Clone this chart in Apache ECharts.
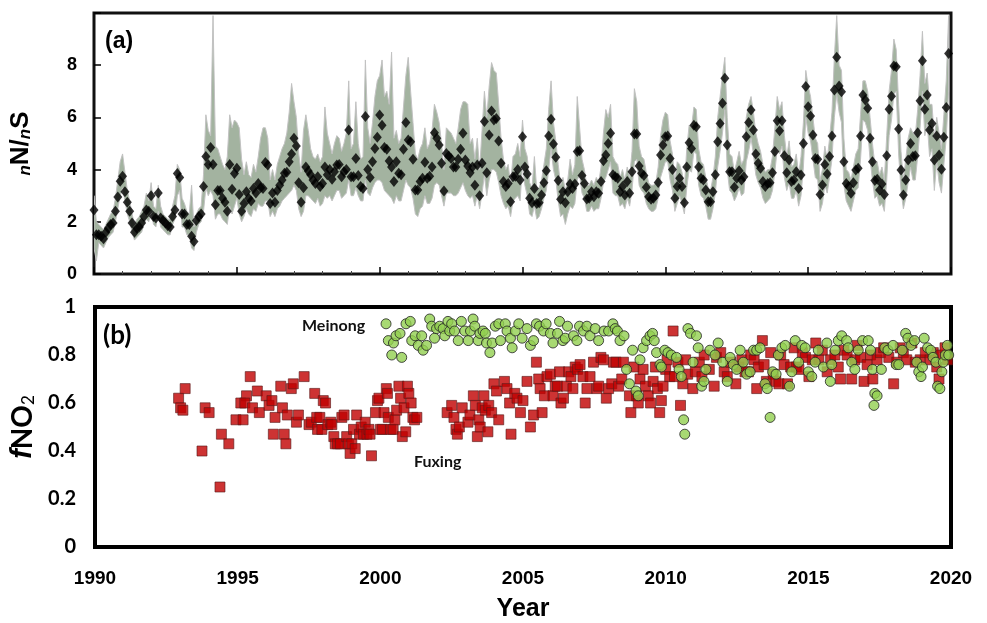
<!DOCTYPE html>
<html>
<head>
<meta charset="utf-8">
<script src="https://cdn.jsdelivr.net/npm/echarts@6/dist/echarts.min.js"></script>
<style>
  html, body { margin: 0; padding: 0; background: #fff; }
  #main { width: 987px; height: 623px; }
</style>
</head>
<body>
<div id="main"></div>
<script>
// monthly nN/nS, Jan 1990 .. Dec 2019 (one row per year)
var startYear = 1990;
var nnsMean = [
  2.45, 1.5, 1.5, 1.45, 1.35, 1.6, 1.75, 1.9, 1.95, 2.4, 2.95, 3.55,
  3.75, 3.15, 2.75, 2.4, 1.95, 1.6, 1.75, 1.8, 1.95, 2.2, 2.45, 2.4,
  3.0, 2.2, 2.15, 3.1, 2.15, 2.05, 1.95, 1.85, 1.8, 2.2, 2.45, 3.85,
  3.7, 2.3, 2.3, 1.9, 1.9, 1.45, 1.25, 2.05, 2.2, 2.3, 3.35, 4.5,
  4.2, 4.85, 4.2, 2.65, 3.2, 3.2, 2.9, 2.75, 2.4, 4.2, 3.25, 3.85,
  4.05, 3.05, 2.4, 2.7, 3.15, 2.9, 2.8, 3.28, 3.1, 3.47, 3.3, 3.28,
  4.27, 4.18, 2.7, 3.1, 2.75, 3.2, 3.4, 3.6, 3.86, 3.9, 4.3, 4.6,
  5.2, 4.9, 3.5, 2.75, 3.3, 4.1, 3.95, 3.8, 3.6, 3.47, 3.73, 3.35,
  3.47, 4.1, 3.8, 4.0, 3.63, 3.92, 4.18, 4.2, 3.73, 3.92, 4.0, 5.52,
  3.73, 3.73, 4.43, 3.77, 3.35, 3.28, 6.03, 4.0, 3.7, 4.3, 4.81, 5.24,
  6.09, 5.7, 4.85, 4.78, 4.33, 4.1, 3.54, 4.3, 3.86, 3.8, 4.78, 5.8,
  5.13, 5.07, 4.4, 3.22, 3.22, 3.54, 3.67, 4.28, 3.67, 3.75, 4.1, 5.41,
  5.2, 4.94, 4.24, 3.18, 4.62, 4.52, 4.43, 4.1, 4.1, 4.4, 4.78, 5.39,
  4.37, 4.14, 3.88, 4.1, 3.4, 4.18, 3.0, 4.24, 5.84, 3.88, 5.33, 6.25,
  5.9, 5.96, 5.1, 4.24, 3.54, 3.35, 3.47, 2.77, 3.73, 3.75, 4.0, 3.6,
  5.26, 4.1, 3.83, 2.9, 2.73, 3.28, 2.7, 2.73, 3.03, 3.5, 3.96, 5.29,
  5.93, 4.98, 4.47, 3.58, 2.86, 3.15, 2.73, 3.15, 3.45, 3.28, 3.45, 4.69,
  4.72, 3.77, 3.47, 2.87, 2.9, 3.15, 2.96, 3.15, 3.09, 3.54, 4.34, 4.56,
  5.0, 5.39, 3.8, 3.73, 3.67, 3.15, 3.35, 3.03, 3.54, 3.09, 3.92, 5.36,
  5.36, 4.14, 3.86, 3.77, 3.32, 2.96, 2.86, 2.9, 3.03, 3.51, 4.56, 4.94,
  5.26, 5.29, 4.43, 4.0, 2.9, 3.35, 3.67, 3.35, 2.73, 4.1, 5.03, 4.81,
  5.7, 5.64, 4.1, 3.67, 3.6, 3.22, 2.77, 2.77, 3.15, 3.8, 5.07, 5.77,
  6.54, 7.5, 4.94, 3.92, 3.92, 3.32, 3.67, 3.96, 3.6, 3.73, 5.26, 5.8,
  6.28, 5.52, 4.6, 4.24, 4.05, 3.54, 3.35, 3.47, 3.5, 3.88, 4.69, 5.87,
  5.49, 5.87, 4.53, 3.88, 4.37, 3.54, 3.6, 3.92, 3.28, 3.79, 5.0, 7.18,
  6.41, 6.05, 5.33, 4.43, 4.4, 3.05, 3.41, 4.2, 3.83, 4.5, 5.29, 7.05,
  8.3, 7.2, 6.98, 4.3, 3.47, 3.35, 3.09, 3.5, 3.98, 4.05, 5.29, 6.86,
  6.67, 6.35, 5.2, 4.3, 3.58, 3.63, 3.22, 3.45, 3.05, 4.53, 6.31, 6.81,
  7.97, 7.94, 5.56, 3.98, 3.03, 3.6, 4.37, 5.0, 4.5, 4.53, 5.41, 6.64,
  8.17, 6.31, 6.86, 5.52, 5.77, 4.37, 5.29, 4.56, 4.01, 5.24, 6.38, 8.45
];
var nnsHigh = [
  3.0, 2.0, 1.9, 1.8, 1.7, 1.9, 2.1, 2.3, 2.4, 2.9, 3.6, 4.3,
  4.6, 3.9, 3.2, 2.8, 2.3, 1.9, 2.1, 2.2, 2.4, 2.6, 3.1, 2.8,
  3.5, 2.6, 2.5, 3.4, 2.6, 2.3, 2.2, 2.1, 2.1, 2.6, 3.0, 4.2,
  4.0, 2.9, 2.7, 2.4, 2.3, 3.4, 1.8, 2.3, 2.5, 2.6, 3.8, 6.1,
  5.5, 5.3, 9.9, 4.9, 4.8, 4.5, 4.2, 4.0, 4.5, 6.1, 5.6, 5.9,
  5.8, 5.6, 4.4, 3.8, 4.3, 3.8, 3.7, 4.2, 3.9, 4.5, 5.2, 5.6,
  5.6, 5.2, 3.6, 4.0, 3.6, 4.2, 4.5, 4.8, 5.0, 5.4, 6.2, 7.3,
  6.6, 6.0, 4.6, 3.9, 5.5, 6.1, 5.5, 4.8, 4.5, 4.4, 4.6, 4.3,
  4.5, 6.4, 5.4, 5.0, 4.6, 5.0, 5.3, 5.2, 4.7, 5.0, 5.4, 7.4,
  4.8, 5.0, 6.6, 5.0, 4.4, 4.5, 8.2, 5.6, 5.0, 5.8, 6.8, 7.4,
  7.6, 8.2, 6.8, 7.0, 6.5, 8.5, 5.2, 5.5, 5.0, 5.2, 6.4, 7.6,
  8.3, 7.0, 5.8, 4.6, 4.4, 4.8, 5.0, 5.6, 4.8, 5.0, 5.5, 6.5,
  6.2, 5.8, 5.0, 4.0, 5.6, 5.5, 5.4, 5.2, 5.0, 5.6, 6.3, 6.6,
  6.6, 6.5, 5.0, 5.2, 4.4, 5.2, 4.0, 5.5, 7.0, 6.0, 7.2, 8.1,
  7.8, 7.7, 6.5, 5.2, 4.4, 4.0, 4.2, 3.4, 4.5, 4.6, 5.0, 4.5,
  5.9, 4.8, 4.5, 3.5, 3.3, 4.5, 3.2, 3.3, 3.6, 4.2, 4.8, 6.3,
  7.4, 5.8, 5.1, 4.2, 3.4, 3.7, 3.2, 3.6, 4.4, 3.8, 4.2, 6.8,
  5.6, 4.4, 4.0, 3.4, 3.4, 3.6, 3.4, 3.7, 3.5, 4.1, 5.4, 6.3,
  6.0, 6.5, 4.5, 4.3, 4.2, 3.7, 4.0, 3.6, 4.1, 3.7, 4.7, 7.1,
  6.6, 4.9, 4.5, 4.4, 3.9, 3.5, 3.4, 3.4, 3.5, 4.1, 5.3, 5.9,
  6.2, 6.1, 5.1, 4.6, 3.5, 4.3, 4.2, 3.9, 3.3, 4.8, 5.7, 5.6,
  6.4, 6.3, 4.8, 4.3, 4.2, 3.7, 3.3, 3.2, 3.7, 4.5, 6.0, 6.8,
  7.6, 8.3, 6.0, 4.6, 4.5, 3.9, 4.3, 4.7, 4.2, 4.4, 6.0, 6.5,
  6.8, 6.2, 5.4, 5.0, 4.7, 4.2, 3.9, 4.0, 4.0, 4.5, 5.6, 6.8,
  6.3, 6.6, 5.3, 4.5, 5.1, 4.1, 4.2, 4.6, 3.8, 4.5, 5.8, 7.8,
  7.2, 6.8, 6.0, 5.2, 5.0, 3.6, 4.0, 4.9, 4.4, 5.2, 6.2, 8.3,
  9.9, 8.0, 7.8, 5.2, 4.0, 3.9, 3.6, 4.1, 4.6, 4.8, 6.1, 7.4,
  7.4, 7.0, 6.0, 5.0, 4.2, 4.3, 3.8, 4.1, 3.6, 5.3, 7.0, 7.8,
  9.0, 8.6, 6.5, 4.7, 3.6, 4.4, 5.2, 5.6, 5.4, 5.3, 6.3, 7.6,
  9.3, 7.3, 7.7, 6.5, 6.5, 5.2, 6.0, 5.4, 4.8, 6.1, 7.4, 9.9
];
var nnsLow = [
  1.0, 0.5, 1.2, 1.1, 1.0, 1.2, 1.4, 1.5, 1.6, 2.0, 2.5, 3.0,
  3.3, 2.8, 2.3, 2.0, 1.6, 1.3, 1.4, 1.5, 1.6, 1.9, 2.1, 2.0,
  2.4, 1.9, 1.8, 2.4, 1.8, 1.7, 1.6, 1.5, 1.5, 1.9, 2.1, 3.0,
  3.2, 1.8, 1.8, 1.5, 1.5, 1.0, 0.9, 1.6, 1.9, 2.0, 2.4, 3.3,
  3.0, 3.2, 3.0, 2.1, 2.3, 2.3, 2.1, 2.0, 1.9, 2.6, 2.3, 2.6,
  2.9, 2.3, 2.0, 2.2, 2.5, 2.3, 2.2, 2.5, 2.4, 2.7, 2.6, 2.6,
  2.8, 2.8, 2.2, 2.4, 2.2, 2.5, 2.6, 2.8, 2.9, 3.0, 3.1, 3.2,
  3.4, 3.2, 2.5, 2.2, 2.4, 3.0, 3.0, 2.9, 2.8, 2.7, 2.9, 2.6,
  2.7, 3.0, 2.9, 3.0, 2.8, 3.0, 3.2, 3.2, 2.9, 3.0, 3.1, 3.6,
  3.0, 3.0, 3.3, 3.0, 2.8, 2.8, 3.6, 3.1, 3.0, 3.3, 3.5, 3.6,
  3.6, 3.5, 3.2, 3.1, 3.0, 2.9, 2.7, 3.0, 2.8, 2.8, 3.2, 3.6,
  3.4, 3.3, 2.9, 2.3, 2.2, 2.5, 2.6, 3.0, 2.7, 2.7, 2.9, 3.4,
  3.5, 3.4, 3.0, 2.6, 3.1, 3.1, 3.1, 3.0, 3.0, 3.1, 3.3, 3.5,
  3.2, 3.0, 2.9, 3.0, 2.6, 3.0, 2.5, 3.1, 3.8, 3.0, 3.6, 4.0,
  4.0, 3.9, 3.5, 3.0, 2.7, 2.5, 2.6, 2.2, 2.8, 2.9, 3.0, 2.8,
  4.2, 3.4, 3.0, 2.3, 2.2, 2.6, 2.1, 2.2, 2.5, 2.9, 3.2, 4.0,
  4.8, 4.0, 3.6, 2.8, 2.2, 2.3, 1.9, 2.3, 2.6, 2.5, 2.7, 3.6,
  3.8, 3.1, 2.9, 2.4, 2.4, 2.6, 2.4, 2.5, 2.5, 2.9, 3.5, 3.7,
  4.0, 4.3, 3.1, 3.0, 3.0, 2.6, 2.7, 2.5, 2.9, 2.6, 3.2, 4.3,
  4.4, 3.4, 3.2, 3.1, 2.7, 2.5, 2.4, 2.4, 2.5, 2.9, 3.7, 4.0,
  4.3, 4.3, 3.6, 3.2, 2.4, 2.7, 3.0, 2.7, 2.3, 3.3, 4.0, 3.9,
  4.7, 4.6, 3.4, 3.0, 2.9, 2.6, 2.1, 2.1, 2.5, 3.1, 4.1, 4.7,
  5.4, 6.3, 4.0, 3.2, 3.1, 2.8, 3.0, 3.3, 3.0, 3.1, 4.3, 4.7,
  5.2, 4.6, 3.8, 3.5, 3.3, 2.9, 2.7, 2.8, 2.9, 3.2, 3.9, 4.8,
  4.6, 4.9, 3.7, 3.2, 3.5, 2.9, 2.9, 3.2, 2.6, 3.0, 4.1, 6.0,
  5.4, 5.1, 4.4, 3.7, 3.6, 2.4, 2.7, 3.4, 3.1, 3.7, 4.4, 6.0,
  6.9, 6.2, 5.8, 3.4, 2.8, 2.6, 2.4, 2.8, 3.2, 3.3, 4.4, 5.9,
  5.8, 5.5, 4.4, 3.6, 2.9, 3.0, 2.6, 2.7, 2.4, 3.6, 5.3, 5.9,
  6.9, 7.0, 4.6, 3.2, 2.5, 2.9, 3.5, 4.1, 3.6, 3.6, 4.5, 5.6,
  7.0, 5.3, 5.8, 4.5, 4.8, 3.2, 4.3, 3.5, 3.1, 4.2, 5.2, 7.0
];

// fNO2 samples [year, value]
var fuxing = [
  [1992.93,0.62],[1993.16,0.66],[1993.0,0.58],[1993.08,0.57],[1993.75,0.40],[1993.86,0.58],[1994.0,0.56],
  [1994.38,0.25],[1994.43,0.47],[1994.69,0.43],[1994.94,0.53],[1995.19,0.53],[1995.11,0.60],[1995.31,0.63],
  [1995.25,0.60],[1995.44,0.71],[1995.52,0.58],[1995.69,0.65],[1995.76,0.56],[1996.0,0.63],[1996.1,0.59],
  [1996.2,0.61],[1996.25,0.47],[1996.31,0.54],[1996.51,0.67],[1996.57,0.58],[1996.63,0.47],[1996.69,0.43],
  [1996.74,0.55],[1996.88,0.66],[1996.95,0.68],[1997.06,0.52],[1997.13,0.55],[1997.33,0.71],[1997.5,0.51],
  [1997.58,0.52],[1997.7,0.64],[1997.77,0.54],[1997.8,0.49],[1997.88,0.54],[1997.95,0.49],[1998.0,0.61],
  [1998.08,0.60],[1998.16,0.51],[1998.26,0.52],[1998.3,0.51],[1998.37,0.46],[1998.42,0.43],[1998.5,0.43],
  [1998.6,0.43],[1998.65,0.54],[1998.73,0.55],[1998.82,0.46],[1998.88,0.43],[1998.94,0.39],[1999.0,0.43],
  [1999.06,0.49],[1999.12,0.41],[1999.17,0.55],[1999.27,0.47],[1999.33,0.50],[1999.41,0.47],[1999.47,0.52],
  [1999.53,0.47],[1999.6,0.49],[1999.64,0.47],[1999.69,0.38],[1999.83,0.56],[1999.9,0.61],[1999.95,0.62],
  [2000.0,0.49],[2000.07,0.49],[2000.13,0.56],[2000.21,0.66],[2000.25,0.64],[2000.28,0.54],[2000.36,0.49],
  [2000.45,0.49],[2000.51,0.53],[2000.57,0.57],[2000.65,0.67],[2000.71,0.62],[2000.77,0.46],[2000.83,0.58],
  [2000.89,0.48],[2000.95,0.67],[2001.0,0.64],[2001.08,0.60],[2001.14,0.54],[2001.2,0.53],[2001.28,0.54],
  [2002.34,0.56],[2002.5,0.59],[2002.58,0.54],[2002.65,0.49],[2002.7,0.47],[2002.77,0.50],[2002.87,0.58],
  [2003.07,0.52],[2003.14,0.55],[2003.26,0.63],[2003.33,0.59],[2003.4,0.46],[2003.45,0.53],[2003.5,0.50],
  [2003.57,0.58],[2003.63,0.63],[2003.68,0.57],[2003.8,0.59],[2003.9,0.56],[2003.77,0.48],[2004.15,0.53],
  [2003.98,0.68],[2004.07,0.65],[2004.35,0.69],[2004.44,0.66],[2004.53,0.60],[2004.58,0.47],[2004.71,0.64],
  [2004.79,0.62],[2004.91,0.56],[2005.0,0.61],[2005.14,0.69],[2005.26,0.50],[2005.37,0.55],[2005.47,0.77],
  [2005.55,0.70],[2005.6,0.66],[2005.67,0.56],[2005.75,0.63],[2005.84,0.71],[2005.96,0.72],[2006.05,0.63],
  [2006.13,0.67],[2006.21,0.67],[2006.28,0.73],[2006.33,0.60],[2006.42,0.62],[2006.52,0.67],[2006.6,0.73],
  [2006.68,0.71],[2006.75,0.66],[2006.83,0.75],[2006.91,0.74],[2007.0,0.76],[2007.1,0.71],[2007.18,0.60],
  [2007.24,0.66],[2007.35,0.71],[2007.47,0.77],[2007.59,0.66],[2007.65,0.67],[2007.73,0.79],[2007.82,0.78],
  [2007.92,0.62],[2008.0,0.66],[2008.11,0.68],[2008.17,0.77],[2008.26,0.77],[2008.35,0.67],[2008.46,0.70],
  [2008.52,0.77],[2008.73,0.63],[2008.78,0.56],[2008.89,0.75],[2008.98,0.63],[2009.04,0.60],[2009.1,0.70],
  [2009.21,0.74],[2009.29,0.67],[2009.39,0.63],[2009.47,0.60],[2009.56,0.69],[2009.64,0.75],[2009.71,0.66],
  [2009.79,0.56],[2009.85,0.61],[2009.91,0.67],[2010.0,0.74],[2010.05,0.78],[2010.14,0.71],[2010.26,0.90],
  [2010.31,0.71],[2010.43,0.77],[2010.52,0.59],[2010.6,0.68],[2010.7,0.78],[2010.77,0.72],[2010.95,0.66],
  [2011.04,0.73],[2011.18,0.77],[2011.27,0.71],[2011.35,0.80],[2011.53,0.74],[2011.7,0.67],[2011.78,0.79],
  [2011.93,0.81],[2012.05,0.73],[2012.16,0.71],[2012.28,0.77],[2012.46,0.68],[2012.57,0.75],[2012.67,0.78],
  [2012.78,0.73],[2012.9,0.73],[2012.98,0.80],[2013.1,0.78],[2013.19,0.66],[2013.25,0.75],[2013.39,0.86],
  [2013.45,0.76],[2013.53,0.69],[2013.68,0.81],[2013.77,0.72],[2013.86,0.69],[2013.97,0.68],[2014.03,0.80],
  [2014.15,0.76],[2014.27,0.68],[2014.38,0.75],[2014.5,0.83],[2014.58,0.75],[2014.67,0.74],[2014.79,0.81],
  [2014.9,0.79],[2015.02,0.71],[2015.14,0.78],[2015.26,0.85],[2015.37,0.78],[2015.49,0.82],[2015.66,0.73],
  [2015.78,0.78],[2015.93,0.80],[2016.05,0.75],[2016.13,0.70],[2016.25,0.82],[2016.36,0.80],[2016.52,0.70],
  [2016.63,0.78],[2016.71,0.84],[2016.83,0.79],[2016.95,0.69],[2017.06,0.76],[2017.18,0.80],[2017.26,0.70],
  [2017.41,0.78],[2017.53,0.81],[2017.64,0.83],[2017.82,0.79],[2017.99,0.68],[2018.1,0.77],[2018.22,0.83],
  [2018.33,0.81],[2018.45,0.78],[2018.63,0.85],[2018.75,0.77],[2018.92,0.78],[2019.1,0.81],[2019.27,0.78],
  [2019.38,0.81],[2019.5,0.75],[2019.58,0.70],[2019.67,0.80],[2019.79,0.83],[2019.88,0.78]
];
var meinong = [
  [2000.2,0.93],[2000.28,0.86],[2000.4,0.80],[2000.46,0.85],[2000.55,0.88],[2000.69,0.89],[2000.75,0.79],
  [2000.9,0.93],[2001.05,0.94],[2001.1,0.86],[2001.22,0.88],[2001.33,0.84],[2001.45,0.88],[2001.5,0.82],
  [2001.62,0.84],[2001.73,0.95],[2001.8,0.92],[2001.9,0.87],[2001.97,0.91],[2002.08,0.92],[2002.2,0.91],
  [2002.26,0.88],[2002.37,0.94],[2002.43,0.90],[2002.5,0.93],[2002.6,0.90],[2002.73,0.86],[2002.84,0.94],
  [2002.96,0.90],[2003.08,0.86],[2003.16,0.90],[2003.25,0.95],[2003.31,0.92],[2003.43,0.86],[2003.49,0.89],
  [2003.6,0.90],[2003.68,0.89],[2003.72,0.85],[2003.84,0.81],[2003.92,0.85],[2004.03,0.92],[2004.15,0.93],
  [2004.21,0.86],[2004.38,0.93],[2004.44,0.90],[2004.56,0.87],[2004.62,0.83],[2004.73,0.90],[2004.85,0.93],
  [2004.97,0.87],[2005.14,0.91],[2005.26,0.84],[2005.37,0.86],[2005.47,0.93],[2005.58,0.92],[2005.72,0.90],
  [2005.81,0.93],[2005.96,0.89],[2006.05,0.85],[2006.21,0.89],[2006.28,0.94],[2006.4,0.86],[2006.48,0.87],
  [2006.56,0.92],[2006.77,0.88],[2006.89,0.86],[2006.98,0.92],[2007.12,0.90],[2007.24,0.92],[2007.35,0.88],
  [2007.53,0.91],[2007.65,0.86],[2007.84,0.90],[2008.0,0.90],[2008.15,0.93],[2008.23,0.91],[2008.31,0.90],
  [2008.4,0.86],[2008.54,0.88],[2008.63,0.74],[2008.73,0.68],[2008.84,0.82],[2008.96,0.65],[2009.04,0.63],
  [2009.1,0.78],[2009.21,0.83],[2009.33,0.86],[2009.45,0.88],[2009.54,0.89],[2009.6,0.86],[2009.68,0.81],
  [2009.8,0.76],[2009.85,0.75],[2009.97,0.82],[2010.08,0.81],[2010.2,0.80],[2010.38,0.79],[2010.47,0.74],
  [2010.55,0.71],[2010.63,0.53],[2010.67,0.47],[2010.78,0.91],[2010.87,0.89],[2010.96,0.77],[2011.08,0.88],
  [2011.14,0.83],[2011.26,0.67],[2011.34,0.69],[2011.41,0.74],[2011.55,0.82],[2011.73,0.80],[2011.84,0.85],
  [2012.0,0.77],[2012.16,0.69],[2012.26,0.79],[2012.37,0.76],[2012.49,0.74],[2012.61,0.82],[2012.72,0.77],
  [2012.84,0.72],[2012.96,0.73],[2013.08,0.82],[2013.19,0.82],[2013.31,0.83],[2013.48,0.68],[2013.56,0.66],
  [2013.66,0.54],[2013.75,0.73],[2013.87,0.72],[2013.95,0.80],[2014.07,0.83],[2014.19,0.84],[2014.34,0.67],
  [2014.42,0.73],[2014.54,0.86],[2014.66,0.77],[2014.77,0.84],[2014.89,0.83],[2015.0,0.73],[2015.12,0.71],
  [2015.24,0.77],[2015.35,0.82],[2015.53,0.75],[2015.65,0.85],[2015.77,0.69],[2015.82,0.76],[2015.94,0.82],
  [2016.05,0.86],[2016.17,0.88],[2016.34,0.86],[2016.4,0.83],[2016.52,0.77],[2016.63,0.74],[2016.75,0.82],
  [2016.9,0.86],[2017.1,0.86],[2017.18,0.82],[2017.25,0.74],[2017.3,0.59],[2017.33,0.64],[2017.41,0.63],
  [2017.56,0.74],[2017.68,0.83],[2017.79,0.82],[2017.97,0.84],[2018.08,0.76],[2018.17,0.76],[2018.29,0.82],
  [2018.41,0.89],[2018.49,0.87],[2018.6,0.84],[2018.72,0.86],[2018.8,0.77],[2018.87,0.73],[2018.95,0.71],
  [2019.0,0.75],[2019.06,0.87],[2019.18,0.83],[2019.29,0.82],[2019.37,0.79],[2019.47,0.77],[2019.53,0.67],
  [2019.61,0.66],[2019.68,0.73],[2019.73,0.77],[2019.8,0.80],[2019.87,0.84],[2019.92,0.80]
];

var chart = echarts.init(document.getElementById('main'));

function monthTime(i) {
  return startYear + i / 12;
}

var meanPoints = nnsMean.map(function (v, i) { return [monthTime(i), v]; });

var option = {
  animation: false,
  backgroundColor: '#fff',
  grid: [
    { left: 94, right: 36, top: 13, height: 261, show: true, borderColor: '#111', borderWidth: 3, backgroundColor: 'transparent' },
    { left: 94, right: 36, top: 307, height: 241, show: true, borderColor: '#000', borderWidth: 4, backgroundColor: 'transparent' }
  ],
  xAxis: [
    {
      type: 'value', gridIndex: 0, min: 1990, max: 2020, interval: 5,
      axisLine: { show: false },
      axisTick: { show: true, inside: true, length: 7, lineStyle: { color: '#000', width: 1.5 } },
      minorTick: { show: true, splitNumber: 5, length: 3, lineStyle: { color: '#444' } },
      axisLabel: { show: false },
      splitLine: { show: false }
    },
    {
      type: 'value', gridIndex: 1, min: 1990, max: 2020, interval: 5,
      axisLine: { show: false },
      axisTick: { show: false },
      splitLine: { show: false },
      axisLabel: {
        color: '#000', fontFamily: 'Liberation Sans, Arial', fontWeight: 'bold', fontSize: 19, margin: 22,
        formatter: function (v) { return String(v); }
      },
      name: 'Year', nameLocation: 'middle', nameGap: 50,
      nameTextStyle: { color: '#000', fontFamily: 'Liberation Sans, Arial', fontWeight: 'bold', fontSize: 25 }
    }
  ],
  yAxis: [
    {
      type: 'value', gridIndex: 0, min: 0, max: 10, interval: 2,
      axisLine: { show: false },
      axisTick: { show: true, inside: true, length: 7, lineStyle: { color: '#000', width: 1.5 } },
      splitLine: { show: false },
      axisLabel: {
        color: '#000', fontFamily: 'Liberation Sans, Arial', fontWeight: 'bold', fontSize: 18, margin: 17,
        formatter: function (v) { return v === 10 ? '' : String(v); }
      },
      name: '{i|n}{b|N/}{i|n}{b|S}', nameLocation: 'middle', nameRotate: 90, nameGap: 60,
      nameTextStyle: {
        rich: {
          i: { fontFamily: 'Liberation Sans, Arial', fontStyle: 'italic', fontWeight: 'bold', fontSize: 17, color: '#000', verticalAlign: 'bottom', lineHeight: 22 },
          b: { fontFamily: 'Liberation Sans, Arial', fontWeight: 'bold', fontSize: 26, color: '#000', verticalAlign: 'bottom', lineHeight: 26 }
        }
      }
    },
    {
      type: 'value', gridIndex: 1, min: 0, max: 1, interval: 0.2,
      axisLine: { show: false },
      axisTick: { show: false },
      splitLine: { show: false },
      axisLabel: {
        color: '#000', fontFamily: 'Lato, Noto Sans', fontWeight: 'bold', fontSize: 20, margin: 19,
        formatter: function (v) { return (v === 0 || v === 1) ? String(v) : v.toFixed(1); }
      },
      name: '{f|f}{b|NO}{s|2}', nameLocation: 'middle', nameRotate: 90, nameGap: 58,
      nameTextStyle: {
        rich: {
          f: { fontFamily: 'Liberation Sans, Arial', fontStyle: 'italic', fontWeight: 'bold', fontSize: 29, color: '#000', verticalAlign: 'bottom', lineHeight: 30 },
          b: { fontFamily: 'Lato, Noto Sans', fontWeight: 'bold', fontSize: 28, color: '#000', verticalAlign: 'bottom', lineHeight: 30 },
          s: { fontFamily: 'Lato, Noto Sans', fontSize: 17, color: '#000', verticalAlign: 'bottom', lineHeight: 24 }
        }
      }
    }
  ],
  graphic: [
    { type: 'text', left: 105, top: 30, style: { text: '(a)', fontFamily: 'Liberation Sans, Arial', fontWeight: 'bold', fontSize: 23, fill: '#000' } },
    { type: 'text', left: 103, top: 323, style: { text: '(b)', fontFamily: 'Lato, Noto Sans', fontWeight: 'bold', fontSize: 26, fill: '#000' } },
    { type: 'text', left: 302, top: 318, style: { text: 'Meinong', fontFamily: 'Lato, Noto Sans', fontWeight: 'bold', fontSize: 16, fill: '#111' } },
    { type: 'text', left: 414, top: 454, style: { text: 'Fuxing', fontFamily: 'Lato, Noto Sans', fontWeight: 'bold', fontSize: 16, fill: '#111' } }
  ],
  series: [
    {
      name: 'band', type: 'custom', xAxisIndex: 0, yAxisIndex: 0, silent: true, z: 1, clip: true,
      data: [[startYear, 0]],
      renderItem: function (params, api) {
        var pts = [];
        for (var i = 0; i < nnsHigh.length; i++) pts.push(api.coord([monthTime(i), nnsHigh[i]]));
        for (var j = nnsLow.length - 1; j >= 0; j--) pts.push(api.coord([monthTime(j), nnsLow[j]]));
        return {
          type: 'polygon',
          shape: { points: pts },
          style: { fill: '#a3b3a0', stroke: '#c2c2c2', lineWidth: 1 }
        };
      }
    },
    {
      name: 'nN/nS', type: 'scatter', xAxisIndex: 0, yAxisIndex: 0, z: 3,
      symbol: 'diamond', symbolSize: [9, 11],
      itemStyle: { color: '#000' },
      data: meanPoints
    },
    {
      name: 'Fuxing', type: 'scatter', xAxisIndex: 1, yAxisIndex: 1, z: 3,
      symbol: 'rect', symbolSize: 10,
      itemStyle: { color: '#c00000', borderColor: '#5b1a1a', borderWidth: 0.8 },
      data: fuxing
    },
    {
      name: 'Meinong', type: 'scatter', xAxisIndex: 1, yAxisIndex: 1, z: 4,
      symbol: 'circle', symbolSize: 10,
      itemStyle: { color: '#92d050', borderColor: '#222', borderWidth: 1 },
      data: meinong
    }
  ]
};

chart.setOption(option);
</script>
</body>
</html>
